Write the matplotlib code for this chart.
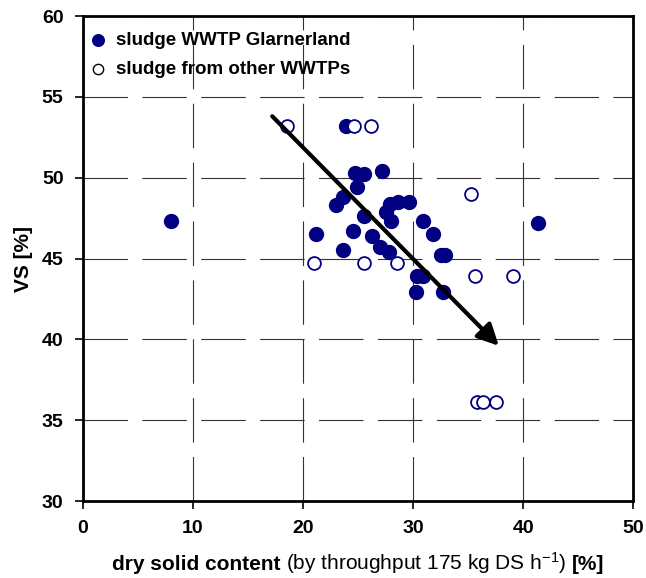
import matplotlib
matplotlib.use('Agg')
import matplotlib.pyplot as plt
from matplotlib.offsetbox import TextArea, HPacker, AnchoredOffsetbox

plt.rcParams['font.family'] = ['Liberation Sans', 'DejaVu Sans']
plt.rcParams['mathtext.fontset'] = 'custom'
plt.rcParams['mathtext.rm'] = 'Liberation Sans'
plt.rcParams['mathtext.it'] = 'Liberation Sans:italic'

# sludge WWTP Glarnerland (filled)
glarner_x = [8.0, 21.2, 23.0, 23.6, 23.6, 23.9, 24.5, 24.7, 24.9, 25.5,
             25.5, 26.3, 27.0, 27.2, 27.5, 27.8, 27.9, 28.0, 28.6, 29.6,
             30.3, 30.4, 30.9, 30.9, 31.8, 32.5, 32.7, 32.9, 41.4]
glarner_y = [47.3, 46.5, 48.3, 48.8, 45.5, 53.2, 46.7, 50.3, 49.4, 50.2,
             47.6, 46.4, 45.7, 50.4, 47.9, 45.4, 48.4, 47.3, 48.5, 48.5,
             42.9, 43.9, 43.9, 47.3, 46.5, 45.2, 42.9, 45.2, 47.2]

# sludge from other WWTPs (open)
other_x = [18.5, 24.6, 26.2, 21.0, 25.5, 28.5, 35.3, 35.6, 39.1, 35.8, 36.4, 37.5]
other_y = [53.2, 53.2, 53.2, 44.7, 44.7, 44.7, 49.0, 43.9, 43.9, 36.1, 36.1, 36.1]

# trend arrow
arrow_start = (17.2, 53.8)
arrow_end = (37.8, 39.6)

navy = '#000080'

fig = plt.figure(figsize=(6.46, 5.78), dpi=100)
ax = fig.add_axes([0.1285, 0.1332, 0.8515, 0.8391])

ax.scatter(glarner_x, glarner_y, s=100, color=navy, zorder=3,
           label='sludge WWTP Glarnerland')
ax.scatter(other_x, other_y, s=85, facecolor='white', edgecolor=navy,
           linewidth=1.3, zorder=4, label='sludge from other WWTPs')

ax.annotate('', xy=arrow_end, xytext=arrow_start,
            arrowprops=dict(arrowstyle='-|>', lw=3, color='black',
                            mutation_scale=32, shrinkA=0, shrinkB=0),
            zorder=5)

ax.set_xlim(0, 50)
ax.set_ylim(30, 60)
ax.set_xticks(range(0, 51, 10))
ax.set_yticks(range(30, 61, 5))
ax.grid(True, color='#333333', lw=0.8, linestyle=(0, (40, 13)))
ax.set_axisbelow(True)
for s in ax.spines.values():
    s.set_linewidth(2)
ax.tick_params(direction='out', length=6, width=1.2, labelsize=14, pad=8)
for lab in ax.get_xticklabels() + ax.get_yticklabels():
    lab.set_fontweight('bold')

ax.set_ylabel('VS [%]', fontsize=15, fontweight='bold', labelpad=6)

leg = ax.legend(loc='upper left', frameon=False,
                prop={'weight': 'bold', 'size': 13.5},
                bbox_to_anchor=(-0.0145, 0.998),
                handletextpad=0.56, borderaxespad=0.4, labelspacing=0.65,
                handlelength=0.8)
leg.legend_handles[0].set_sizes([70])
leg.legend_handles[1].set_sizes([55])
leg.legend_handles[1].set_edgecolor('black')
leg.legend_handles[1].set_linewidth(1.0)

# x label with mixed weights
parts = [TextArea('dry solid content', textprops=dict(fontsize=15, fontweight='bold')),
         TextArea('(by throughput 175 kg DS h$^{\\mathregular{-1}}$)', textprops=dict(fontsize=15)),
         TextArea('[%]', textprops=dict(fontsize=15, fontweight='bold'))]
box = HPacker(children=parts, align='baseline', pad=0, sep=4)
anch = AnchoredOffsetbox(loc='center', child=box, frameon=False,
                         bbox_to_anchor=(0.554, 0.025), bbox_transform=fig.transFigure,
                         borderpad=0, pad=0)
fig.add_artist(anch)

fig.savefig('out.png', dpi=100)
